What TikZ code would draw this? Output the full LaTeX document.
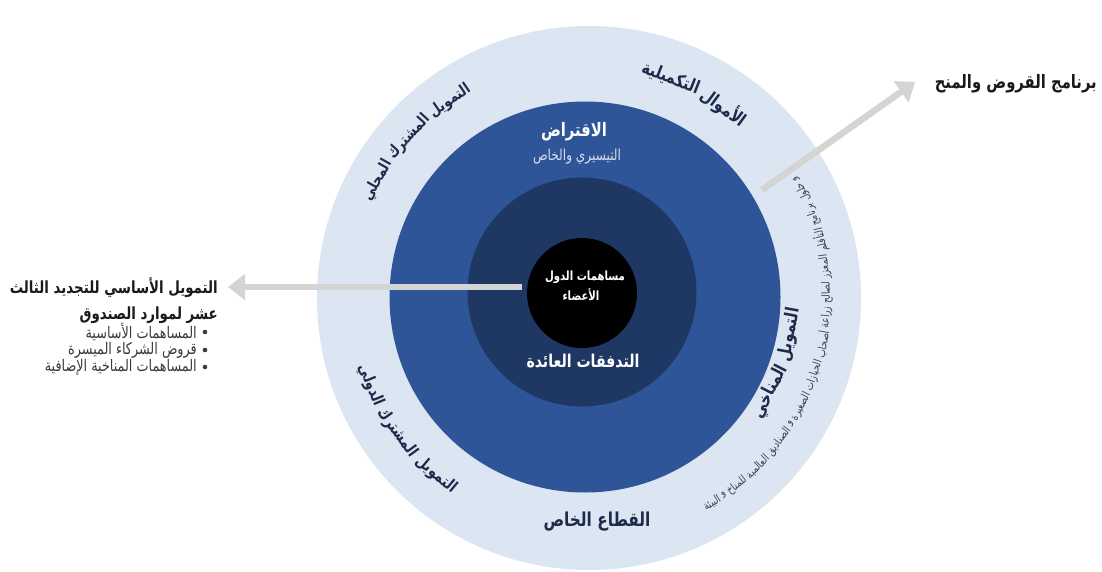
\documentclass[tikz,border=0pt]{standalone}
\usepackage{fontspec}
\usetikzlibrary{arrows.meta}
\TeXXeTstate=1
\newfontfamily\ar[Script=Arabic,FakeStretch=0.8]{DejaVu Sans}
\definecolor{ringlight}{HTML}{DCE6F2}
\definecolor{ringmid}{HTML}{2E5597}
\definecolor{ringnavy}{HTML}{1F3763}
\definecolor{ringtxt}{HTML}{1C2B4B}
\definecolor{smalltxt}{HTML}{34415E}
\definecolor{arrowgray}{HTML}{D4D4D4}
\definecolor{subtxt}{HTML}{D6DEEE}
\definecolor{darktxt}{HTML}{1A1A1A}
\definecolor{bullettxt}{HTML}{3A3A3A}

\newdimen\arcW \newdimen\arcSp \newdimen\arcCum \newdimen\arcWd
\newsavebox\arcbox

% #1 name #2 cx #3 cy #4 r #5 a1 #6 a2 #7 s (1 tops out, -1 tops in) #8 font #9 words
\newcommand\preparc[9]{%
  \global\arcW=0pt
  \foreach \w [count=\n] in {#9}{%
    \sbox\arcbox{\normalfont#8\fontsize{10}{12}\selectfont\beginR\w\endR}%
    \global\advance\arcW by \wd\arcbox
    \xdef\arcN{\n}}%
  \sbox\arcbox{\normalfont#8\fontsize{10}{12}\selectfont\global\arcSp=\fontdimen2\font}%
  \pgfmathsetmacro\arcL{abs(#6-#5)*pi/180*#4}%
  \pgfmathsetmacro\arcFs{10*\arcL/max(\arcW+(\arcN-1)*\arcSp,1)}%
  \pgfmathsetmacro\arcM{(#5+#6)/2}%
  \pgfmathsetmacro\arcD{abs(#6-#5)}%
  \pgfmathsetmacro\arcSpN{\arcSp*\arcFs/10}%
  \expandafter\xdef\csname arcfont@#1\endcsname{\unexpanded{#8}\noexpand\fontsize{\arcFs}{\arcFs}\noexpand\selectfont}%
  \expandafter\gdef\csname arcnodes@#1\endcsname{}%
  \global\arcCum=0pt
  \foreach \w [count=\i] in {#9}{%
    \sbox\arcbox{\normalfont#8\fontsize{\arcFs}{\arcFs}\selectfont\beginR\w\endR}%
    \arcWd=\wd\arcbox
    \pgfmathsetmacro\ang{\arcM+#7*(-\arcD/2+(\arcCum+0.5*\arcWd)/#4*180/pi)}%
    \pgfmathsetmacro\rot{\ang-#7*90}%
    \pgfmathsetmacro\ax{#2+#4*cos(\ang)}%
    \pgfmathsetmacro\ay{#3+#4*sin(\ang)}%
    \expandafter\let\expandafter\arctmp\csname arcnodes@#1\endcsname
    \expandafter\xdef\csname arcnodes@#1\endcsname{\unexpanded\expandafter{\arctmp}%
      \noexpand\node[rotate=\rot,inner sep=0pt,anchor=center] (#1-\i) at (\ax,\ay) {\expandafter\noexpand\csname arcfont@#1\endcsname\noexpand\beginR\unexpanded\expandafter{\w}\noexpand\endR};}%
    \global\advance\arcCum by \arcWd
    \global\advance\arcCum by \arcSpN pt
  }%
}
\newcommand\drawarc[1]{\csname arcnodes@#1\endcsname}

% fit text to a width: defines #1 globally as font size
\newcommand\prepfit[4]{%
  \sbox\arcbox{\normalfont#3\fontsize{10}{12}\selectfont#4}%
  \arcWd=\wd\arcbox
  \pgfmathsetmacro\fitFsTmp{10*#2/max(\arcWd,1)}%
  \xdef#1{\fitFsTmp}%
}

\tikzset{
  disc/.style={circle,inner sep=0pt,draw=none},
  bigarrow/.style={draw=arrowgray,line width=6.5pt,-{Triangle[length=17pt,width=25pt]}},
  artext/.style={inner sep=0pt},
  bulletdot/.style={circle,fill=bullettxt,inner sep=0pt,minimum size=4.6pt}
}

\begin{document}
\prepfit{\fsCore}{80}{\ar\bfseries}{\beginR مساهمات الدول\endR}%
\prepfit{\fsRet}{113}{\ar\bfseries}{\beginR التدفقات العائدة\endR}%
\prepfit{\fsBor}{66}{\ar\bfseries}{\beginR الاقتراض\endR}%
\prepfit{\fsBorSub}{88}{\ar}{\beginR التيسيري والخاص\endR}%
\prepfit{\fsPriv}{107}{\ar\bfseries}{\beginR القطاع الخاص\endR}%
\prepfit{\fsLeft}{208}{\ar\bfseries}{\beginR التمويل الأساسي للتجديد الثالث\endR}%
\prepfit{\fsBul}{152}{\ar}{\beginR المساهمات المناخية الإضافية\endR}%
\prepfit{\fsLoans}{162}{\ar\bfseries}{\beginR برنامج القروض والمنح\endR}%
\preparc{loc}{585}{-297}{238}{119}{156}{1}{\ar\bfseries\color{ringtxt}}{التمويل,المشترك,المحلي}%
\preparc{sup}{585}{-297}{235}{47.5}{76}{1}{\ar\bfseries\color{ringtxt}}{الأموال,التكميلية}%
\preparc{intl}{585}{-297}{232}{197}{236}{-1}{\ar\bfseries\color{ringtxt}}{التمويل,المشترك,الدولي}%
\preparc{clim}{585}{-297}{208}{-35}{-3}{-1}{\ar\bfseries\color{ringtxt}}{التمويل,المناخي}%
\preparc{climsub}{585}{-297}{242}{-60.5}{29.7}{-1}{\ar\color{smalltxt}}{و,حلول,برنامج,التأقلم,المعزز,لصالح,زراعة,أصحاب,الحيازات,الصغيرة,و,الصناديق,العالمية,للمناخ,و,البيئة}%
\begin{tikzpicture}[x=1pt,y=1pt]
\useasboundingbox (0,0) rectangle (1102,-572);
\fill[white] (0,0) rectangle (1102,-572);

% rings
\node[disc,fill=ringlight,minimum size=544pt] (outer) at (589,-298) {};
\node[disc,fill=ringmid,minimum size=391pt] (mid) at (585,-297) {};
\node[disc,fill=ringnavy,minimum size=229pt] (inner) at (582,-292) {};
\node[disc,fill=black,minimum size=110pt] (core) at (582,-293) {};

% core text
\node[artext,text=white,font=\ar\bfseries\fontsize{\fsCore}{\fsCore}\selectfont] (core1) at (585,-277) {\beginR مساهمات الدول\endR};
\node[artext,text=white,font=\ar\bfseries\fontsize{\fsCore}{\fsCore}\selectfont] (core2) at (581,-295) {\beginR الأعضاء\endR};

% navy ring text
\node[artext,text=white,font=\ar\bfseries\fontsize{\fsRet}{\fsRet}\selectfont] (returns) at (583,-361) {\beginR التدفقات العائدة\endR};

% mid ring text
\node[artext,text=white,font=\ar\bfseries\fontsize{\fsBor}{\fsBor}\selectfont] (borrow) at (574,-132) {\beginR الاقتراض\endR};
\node[artext,text=subtxt,font=\ar\fontsize{\fsBorSub}{\fsBorSub}\selectfont] (borrowsub) at (577,-157) {\beginR التيسيري والخاص\endR};

% outer ring curved labels
\drawarc{loc}
\drawarc{sup}
\drawarc{intl}
\drawarc{clim}
\drawarc{climsub}

\node[artext,text=ringtxt,font=\ar\bfseries\fontsize{\fsPriv}{\fsPriv}\selectfont] (private) at (597,-522) {\beginR القطاع الخاص\endR};

% left block
\node[artext,anchor=east,text=darktxt,font=\ar\bfseries\fontsize{\fsLeft}{\fsLeft}\selectfont] (lt1) at (218,-288) {\beginR التمويل الأساسي للتجديد الثالث\endR};
\node[artext,anchor=east,text=darktxt,font=\ar\bfseries\fontsize{\fsLeft}{\fsLeft}\selectfont] (lt2) at (218,-315) {\beginR عشر لموارد الصندوق\endR};

\node[artext,anchor=east,text=bullettxt,font=\ar\fontsize{\fsBul}{\fsBul}\selectfont] (b1) at (197,-332) {\beginR المساهمات الأساسية\endR};
\node[artext,anchor=east,text=bullettxt,font=\ar\fontsize{\fsBul}{\fsBul}\selectfont] (b2) at (197,-350) {\beginR قروض الشركاء الميسرة\endR};
\node[artext,anchor=east,text=bullettxt,font=\ar\fontsize{\fsBul}{\fsBul}\selectfont] (b3) at (197,-367) {\beginR المساهمات المناخية الإضافية\endR};
\node[bulletdot] (d1) at (205,-332) {};
\node[bulletdot] (d2) at (205,-350) {};
\node[bulletdot] (d3) at (205,-367) {};

% top right label
\node[artext,anchor=east,text=darktxt,font=\ar\bfseries\fontsize{\fsLoans}{\fsLoans}\selectfont] (loans) at (1097,-84) {\beginR برنامج القروض والمنح\endR};

% arrows
\coordinate (lstart) at (522,-287);
\coordinate (ltip) at (228,-287);
\draw[bigarrow] (lstart) -- (ltip);
\coordinate (rstart) at (762,-190);
\coordinate (rtip) at (915,-82);
\draw[bigarrow] (rstart) -- (rtip);
\end{tikzpicture}
\end{document}
